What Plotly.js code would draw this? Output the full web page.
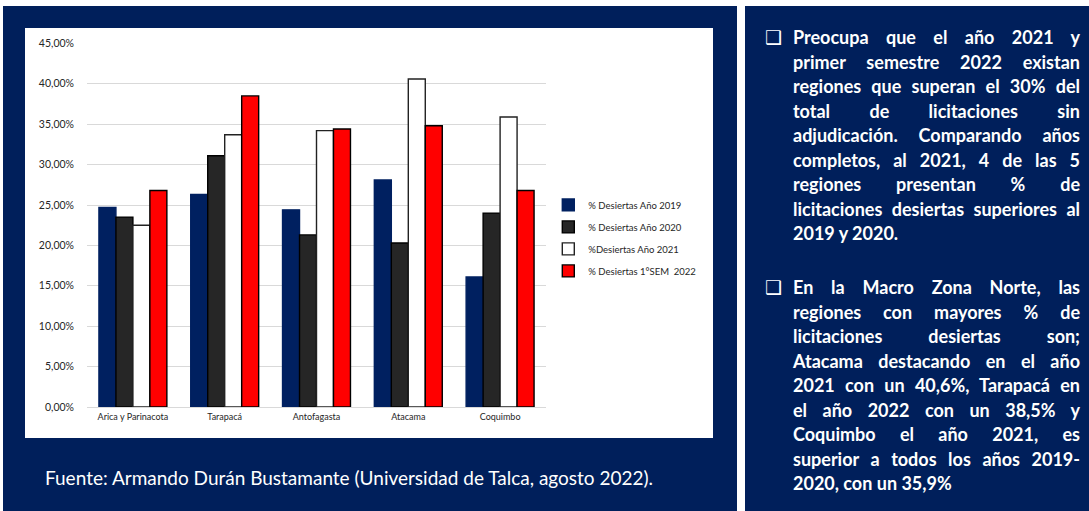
<!DOCTYPE html>
<html>
<head>
<meta charset="utf-8">
<script src="https://cdn.plot.ly/plotly-3.0.1.min.js"></script>
<style>
  html, body { margin: 0; padding: 0; background: #ffffff; }
  body { width: 1089px; height: 511px; position: relative; overflow: hidden; font-family: 'Lato', 'Open Sans', sans-serif; }
  .panel { position: absolute; background: #001F5B; }
  #chart { position: absolute; left: 25px; top: 28px; width: 688px; height: 410px; background: #ffffff; }
  .src { position: absolute; left: 45px; top: 466px; color: #ffffff; font-size: 19px; line-height: 24px; white-space: nowrap; }
  .ln { position: absolute; left: 793px; width: 287px; color: #ffffff; font-weight: 700; font-size: 18px; line-height: 22px; white-space: nowrap; text-align: justify; text-align-last: justify; }
  .ln.last { text-align: left; text-align-last: left; }
  .bul { position: absolute; left: 765px; color: #ffffff; font-family: 'DejaVu Sans', sans-serif; font-size: 19px; line-height: 22px; }
</style>
</head>
<body>
<div class="panel" style="left:3px; top:6px; width:734px; height:505px;"></div>
<div class="panel" style="left:745px; top:6px; width:344px; height:505px;"></div>
<div id="chart"></div>
<div class="src">Fuente: Armando Durán Bustamante (Universidad de Talca, agosto 2022).</div>
<div id="text"></div>
<script>
// ---- data ----
const regiones = ['Arica y Parinacota', 'Tarapacá', 'Antofagasta', 'Atacama', 'Coquimbo'];
const serieNombres = ['% Desiertas Año 2019', '% Desiertas Año 2020', '%Desiertas Año 2021', '% Desiertas 1°SEM  2022'];
const desiertas2019 = [24.7, 26.3, 24.4, 28.1, 16.1];
const desiertas2020 = [23.5, 31.1, 21.3, 20.3, 24.0];
const desiertas2021 = [22.5, 33.7, 34.2, 40.6, 35.9];
const desiertas2022 = [26.8, 38.5, 34.4, 34.8, 26.8];
const yTicks = [0, 5, 10, 15, 20, 25, 30, 35, 40, 45];
const yTickLabels = ['0,00%', '5,00%', '10,00%', '15,00%', '20,00%', '25,00%', '30,00%', '35,00%', '40,00%', '45,00%'];

const parrafo1 = [
  'Preocupa que el año 2021 y',
  'primer semestre 2022 existan',
  'regiones que superan el 30% del',
  'total de licitaciones sin',
  'adjudicación. Comparando años',
  'completos, al 2021, 4 de las 5',
  'regiones presentan % de',
  'licitaciones desiertas superiores al',
  '2019 y 2020.'
];
const parrafo2 = [
  'En la Macro Zona Norte, las',
  'regiones con mayores % de',
  'licitaciones desiertas son;',
  'Atacama destacando en el año',
  '2021 con un 40,6%, Tarapacá en',
  'el año 2022 con un 38,5% y',
  'Coquimbo el año 2021, es',
  'superior a todos los años 2019-',
  '2020, con un 35,9%'
];

// ---- text panel ----
const textDiv = document.getElementById('text');
function addParagraph(lines, firstCenter, spacing) {
  const b = document.createElement('div');
  b.className = 'bul';
  b.textContent = '❑';
  b.style.top = (firstCenter - 11) + 'px';
  textDiv.appendChild(b);
  lines.forEach((t, i) => {
    const d = document.createElement('div');
    d.className = 'ln' + (i === lines.length - 1 ? ' last' : '');
    d.textContent = t;
    d.style.top = (firstCenter - 11 + i * spacing) + 'px';
    textDiv.appendChild(d);
  });
}
addParagraph(parrafo1, 37, 24.5);
addParagraph(parrafo2, 287, 24.5);

// ---- chart ----
const colores = ['#002060', '#262626', '#ffffff', '#ff0000'];
const bordes = ['#002060', '#000000', '#222222', '#000000'];
const series = [desiertas2019, desiertas2020, desiertas2021, desiertas2022];
const traces = series.map((vals, i) => ({
  type: 'bar',
  name: serieNombres[i],
  x: regiones,
  y: vals,
  legendgroup: 'g' + i,
  marker: { color: colores[i], line: { color: bordes[i], width: 1.4 } },
  hoverinfo: 'x+y+name'
}));

const layout = {
  width: 688,
  height: 410,
  margin: { l: 62, r: 160, t: 15, b: 31 },
  paper_bgcolor: '#ffffff',
  plot_bgcolor: '#ffffff',
  barmode: 'group',
  bargap: 0.26,
  bargroupgap: 0,
  showlegend: true,
  font: { family: 'Lato, sans-serif', color: '#262626' },
  legend: {
    x: 1.005, xanchor: 'left',
    y: 0.595, yanchor: 'top',
    font: { size: 9.5, color: '#262626' },
    traceorder: 'grouped',
    tracegroupgap: 3,
    bgcolor: 'rgba(0,0,0,0)'
  },
  xaxis: {
    type: 'category',
    showgrid: false,
    showline: false,
    zeroline: false,
    ticks: '',
    ticklabelstandoff: 3,
    tickfont: { size: 9, color: '#262626' }
  },
  yaxis: {
    range: [0, 45.05],
    tickmode: 'array',
    tickvals: yTicks,
    ticktext: yTickLabels,
    showgrid: true,
    gridcolor: '#d9d9d9',
    gridwidth: 1,
    zeroline: true,
    zerolinecolor: '#d9d9d9',
    zerolinewidth: 1,
    showline: false,
    ticks: '',
    ticklabelstandoff: 12,
    tickfont: { size: 10.5, color: '#262626' }
  }
};

Plotly.newPlot('chart', traces, layout, { displayModeBar: false, staticPlot: true });
</script>
</body>
</html>
